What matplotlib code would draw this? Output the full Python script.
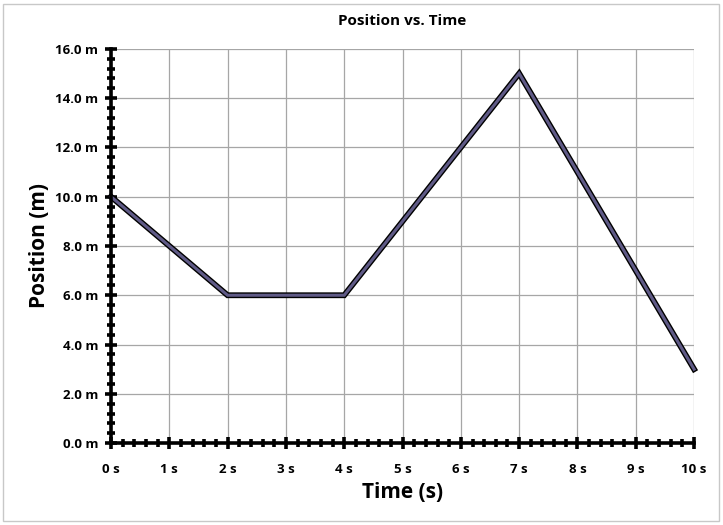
import numpy as np
import matplotlib
matplotlib.use('Agg')
import matplotlib.pyplot as plt
import matplotlib.patches as patches
import matplotlib.patheffects as pe
from matplotlib.ticker import MultipleLocator, FuncFormatter

plt.rcParams['font.family'] = ['Open Sans', 'DejaVu Sans']

times = [0, 2, 4, 7, 10]
positions = [10, 6, 6, 15, 3]

fig = plt.figure(figsize=(7.23, 5.25), dpi=100)
ax = fig.add_axes([0.1535, 0.156, 0.8065, 0.751])

# light outer frame like the spreadsheet chart area
fig.patches.append(patches.Rectangle((0.004, 0.008), 0.99, 0.985, transform=fig.transFigure,
                                     fill=False, edgecolor='#c8c8c8', linewidth=1))

ax.plot(times, positions, color='#5f5a86', linewidth=2.2, solid_joinstyle='miter',
        path_effects=[pe.Stroke(linewidth=4.2, foreground='black'), pe.Normal()],
        zorder=5, clip_on=False)

ax.set_xlim(0, 10)
ax.set_ylim(0, 16)
ax.xaxis.set_major_locator(MultipleLocator(1))
ax.xaxis.set_minor_locator(MultipleLocator(0.2))
ax.yaxis.set_major_locator(MultipleLocator(2))
ax.yaxis.set_minor_locator(MultipleLocator(0.4))
ax.xaxis.set_major_formatter(FuncFormatter(lambda v, p: f'{v:.0f} s'))
ax.yaxis.set_major_formatter(FuncFormatter(lambda v, p: f'{v:.1f} m'))

ax.grid(True, which='major', color='#a6a6a6', linewidth=0.9)
ax.set_axisbelow(True)

for side in ['top', 'right']:
    ax.spines[side].set_visible(False)
for side in ['left', 'bottom']:
    ax.spines[side].set_linewidth(2.6)
    ax.spines[side].set_zorder(6)

ax.tick_params(which='both', direction='inout', width=2.6, colors='black')
ax.tick_params(which='major', length=8)
ax.tick_params(which='minor', length=6)
ax.tick_params(axis='x', which='major', pad=10, labelsize=9.5)
ax.tick_params(axis='y', which='major', pad=5, labelsize=9.5)
for lbl in ax.get_xticklabels() + ax.get_yticklabels():
    lbl.set_fontweight('bold')

ax.set_title('Position vs. Time', fontsize=11, fontweight='bold', pad=17)
ax.set_xlabel('Time (s)', fontsize=15, fontweight='bold', labelpad=5)
ax.set_ylabel('Position (m)', fontsize=15, fontweight='bold', labelpad=4)

fig.savefig('out.png', dpi=100)
